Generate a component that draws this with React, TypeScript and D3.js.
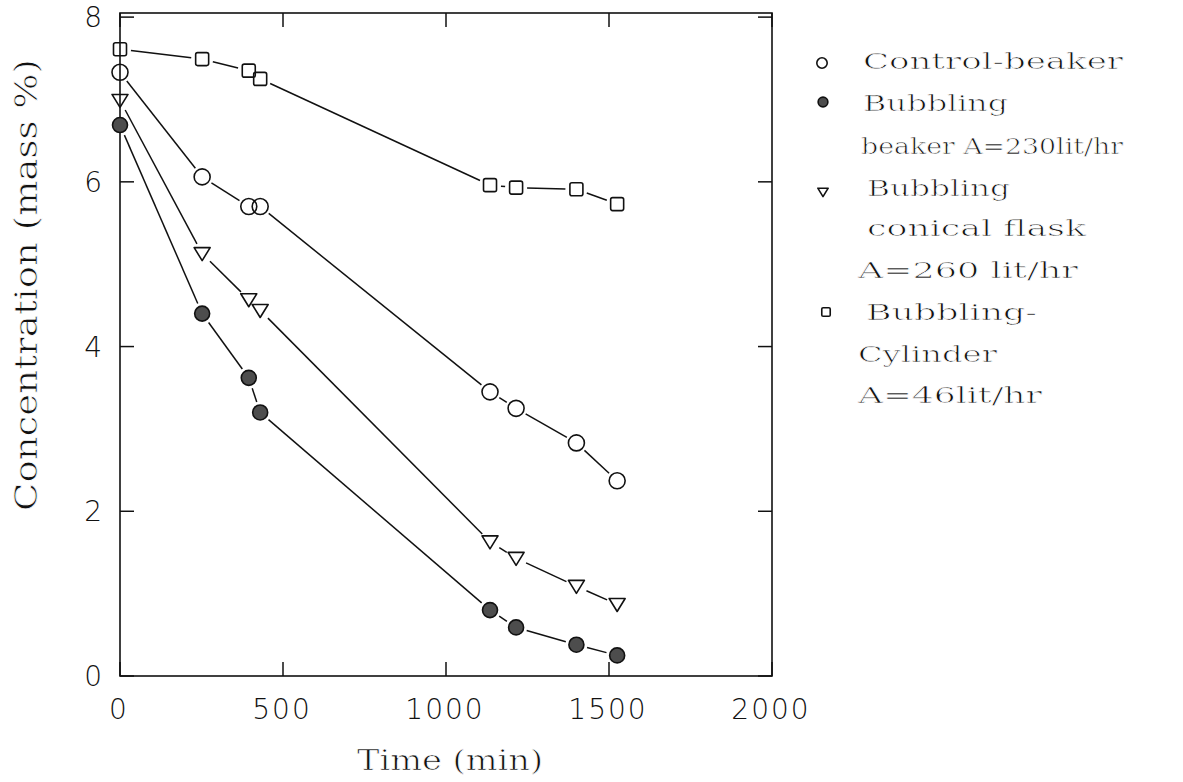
import React from "react";
import * as d3 from "d3";

// ---- data ----
const times = [0, 252, 395, 430, 1135, 1215, 1400, 1525];
const controlBeaker = [7.33, 6.06, 5.70, 5.70, 3.45, 3.25, 2.83, 2.37];
const bubblingBeaker = [6.69, 4.40, 3.62, 3.20, 0.80, 0.59, 0.38, 0.25];
const bubblingFlask = [6.99, 5.13, 4.57, 4.44, 1.63, 1.43, 1.09, 0.87];
const bubblingCylinder = [7.61, 7.49, 7.35, 7.25, 5.96, 5.93, 5.91, 5.73];
const xTicks = [0, 500, 1000, 1500, 2000];
const yTicks = [0, 2, 4, 6, 8];
const legendLabels = [
  ["Control-beaker"],
  ["Bubbling", "beaker A=230lit/hr"],
  ["Bubbling", "conical flask", "A=260 lit/hr"],
  ["Bubbling-", "Cylinder", "A=46lit/hr"],
];
const markerKinds = ["circle", "filled", "triangle", "square"];
const seriesValues = [controlBeaker, bubblingBeaker, bubblingFlask, bubblingCylinder];

// ---- layout ----
const W = 1183, H = 782;
const L = 120, R = 772, T = 13, B = 676;
const x = d3.scaleLinear().domain([0, 2000]).range([L, R]);
const y = d3.scaleLinear().domain([0, 8.05]).range([B, T]);

const legendLayout = [
  // [x, baseline, textLength]
  [[863, 69, 260]],
  [[863, 111, 145], [861, 154, 262]],
  [[867, 196, 143], [867, 236, 219], [858, 278, 220]],
  [[866, 320, 171], [858, 362, 139], [858, 403, 184]],
];
const legendMarkerPos = [[822, 63], [823, 102], [823, 192], [826, 312]];

const SERIF = "'DejaVu Serif', serif";
const SANS = "'DejaVu Sans', sans-serif";

function Marker({ kind, cx, cy, s }: { kind: string; cx: number; cy: number; s: number }) {
  const sw = 1.6;
  if (kind === "circle")
    return <circle cx={cx} cy={cy} r={8 * s} fill="none" stroke="#111" strokeWidth={sw} />;
  if (kind === "filled")
    return <circle cx={cx} cy={cy} r={7.5 * s} fill="#4d4d4d" stroke="#111" strokeWidth={sw} />;
  if (kind === "triangle") {
    const w = 8 * s, h = 13 * s;
    const p = `M${cx - w},${cy - h * 0.45} L${cx + w},${cy - h * 0.45} L${cx},${cy + h * 0.55} Z`;
    return <path d={p} fill="none" stroke="#111" strokeWidth={sw} strokeLinejoin="round" />;
  }
  const a = 6.5 * s;
  return <rect x={cx - a} y={cy - a} width={2 * a} height={2 * a} rx={2 * s} fill="none" stroke="#111" strokeWidth={sw} />;
}

function segments(vals: number[], gap: number) {
  const out: [number, number, number, number][] = [];
  for (let i = 0; i < vals.length - 1; i++) {
    const x1 = x(times[i]), y1 = y(vals[i]), x2 = x(times[i + 1]), y2 = y(vals[i + 1]);
    const dx = x2 - x1, dy = y2 - y1, len = Math.hypot(dx, dy);
    if (len <= 2 * gap + 2) continue;
    const ux = dx / len, uy = dy / len;
    out.push([x1 + ux * gap, y1 + uy * gap, x2 - ux * gap, y2 - uy * gap]);
  }
  return out;
}

const thin = { stroke: "#fff", strokeWidth: 0.7 };

export default function App() {
  return (
    <svg width={W} height={H} style={{ position: "absolute", left: 0, top: 0, background: "#fff" }}>
      <rect width={W} height={H} fill="#fff" />
      {/* frame */}
      <rect x={L} y={T} width={R - L} height={B - T} fill="none" stroke="#111" strokeWidth={1.6} />
      {xTicks.map((t) => (
        <g key={"xt" + t}>
          <line x1={x(t)} x2={x(t)} y1={B} y2={B - 14} stroke="#111" strokeWidth={1.5} />
          <line x1={x(t)} x2={x(t)} y1={T} y2={T + 14} stroke="#111" strokeWidth={1.5} />
          <text x={x(t) - 1} y={719} textAnchor="middle" fontFamily={SANS} fontWeight={200}
            fontSize={28} letterSpacing={2} fill="#111">{t}</text>
        </g>
      ))}
      {yTicks.map((t) => (
        <g key={"yt" + t}>
          <line x1={L} x2={L + 14} y1={y(t)} y2={y(t)} stroke="#111" strokeWidth={1.5} />
          <line x1={R} x2={R - 14} y1={y(t)} y2={y(t)} stroke="#111" strokeWidth={1.5} />
          <text x={102} y={y(t) + 10} textAnchor="end" fontFamily={SANS} fontWeight={200}
            fontSize={28} fill="#111">{t}</text>
        </g>
      ))}
      {/* series */}
      {seriesValues.map((vals, si) => (
        <g key={"s" + si}>
          {segments(vals, 11).map((s, i) => (
            <line key={i} x1={s[0]} y1={s[1]} x2={s[2]} y2={s[3]} stroke="#111" strokeWidth={1.5} />
          ))}
          {vals.map((v, i) => (
            <Marker key={i} kind={markerKinds[si]} cx={x(times[i])} cy={y(v)} s={1} />
          ))}
        </g>
      ))}
      {/* axis titles */}
      <text x={357} y={770} fontFamily={SERIF} fontSize={27} textLength={186}
        lengthAdjust="spacingAndGlyphs" fill="#111" {...thin}>Time (min)</text>
      <text transform="translate(37,285) rotate(-90)" textAnchor="middle" fontFamily={SERIF}
        fontSize={31} textLength={452} lengthAdjust="spacingAndGlyphs" fill="#111" {...thin}>
        Concentration (mass %)
      </text>
      {/* legend */}
      {legendLabels.map((lines, li) => (
        <g key={"lg" + li}>
          <Marker kind={markerKinds[li]} cx={legendMarkerPos[li][0]} cy={legendMarkerPos[li][1]} s={0.65} />
          {lines.map((txt, k) => (
            <text key={k} x={legendLayout[li][k][0]} y={legendLayout[li][k][1]} fontFamily={SERIF}
              fontSize={22} textLength={legendLayout[li][k][2]} lengthAdjust="spacingAndGlyphs"
              fill="#111" {...thin}>
              {txt}
            </text>
          ))}
        </g>
      ))}
    </svg>
  );
}
